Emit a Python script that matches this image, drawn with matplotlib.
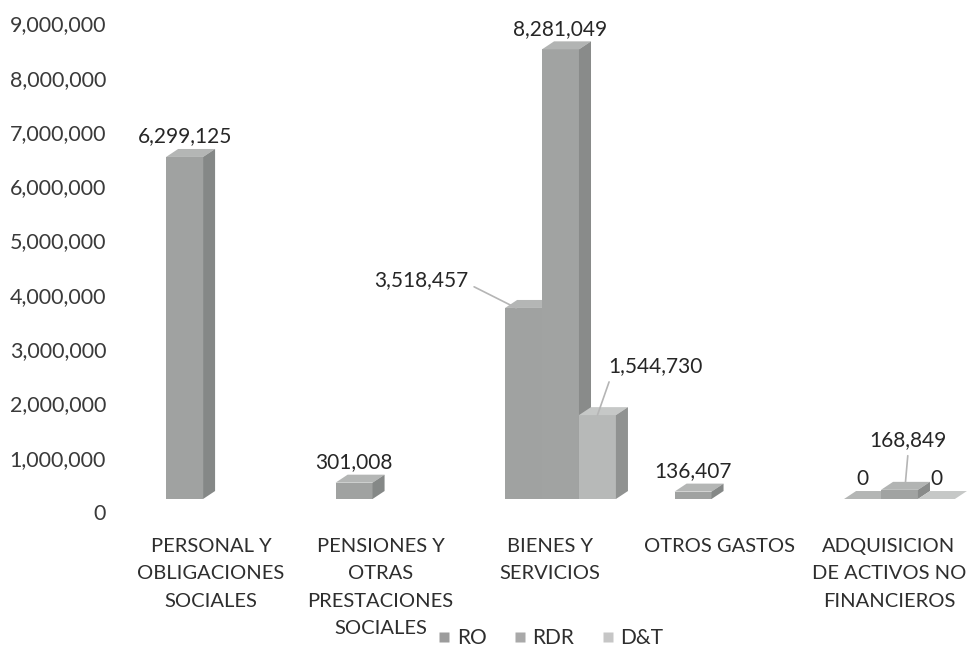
import numpy as np
import matplotlib
matplotlib.use('Agg')
import matplotlib.pyplot as plt
from matplotlib.patches import Polygon
from matplotlib.lines import Line2D
from matplotlib.transforms import ScaledTranslation

# gasto por concepto y fuente de financiacion
categories = ['PERSONAL Y\nOBLIGACIONES\nSOCIALES',
              'PENSIONES Y\nOTRAS\nPRESTACIONES\nSOCIALES',
              'BIENES Y\nSERVICIOS',
              'OTROS GASTOS',
              'ADQUISICION\nDE ACTIVOS NO\nFINANCIEROS']
series = ['RO', 'RDR', 'D&T']
ro = [6299125, 301008, 3518457, 136407, 0]
rdr = [np.nan, np.nan, 8281049, np.nan, 168849]
dt = [np.nan, np.nan, 1544730, np.nan, 0]
y_ticks = [0, 1000000, 2000000, 3000000, 4000000, 5000000,
           6000000, 7000000, 8000000, 9000000]

plt.rcParams['font.family'] = ['Lato', 'DejaVu Sans']
plt.rcParams['font.size'] = 15.5

# front / top / side shades for each series
shades = {
    'RO':  ('#a0a2a1', '#b4b6b5', '#858887'),
    'RDR': ('#a1a3a2', '#b2b4b3', '#898b8a'),
    'D&T': ('#b7b9b8', '#c6c8c7', '#909291'),
}
legend_colors = {'RO': '#9c9c9c', 'RDR': '#a9a9a9', 'D&T': '#c6c6c6'}

W = 0.218            # bar width (category units)
OFFS = [-0.265, -0.047, 0.171]   # left edge of each series inside a group
DX = 0.071           # depth shift to the right
DY = 147000          # depth shift upwards (value units)

fig = plt.figure(figsize=(9.71, 6.47), dpi=100)
ax = fig.add_axes([120/971, 148/647, 851/971, 488.7/647])
ax.set_xlim(-0.537, 4.484)
ax.set_ylim(0, 9000000)
ax.set_facecolor('none')
for s in ax.spines.values():
    s.set_visible(False)


def draw_bar(x0, v, cols):
    front, top, side = cols
    x1 = x0 + W
    ax.bar(x0, v, width=W, align='edge', color=front, linewidth=0, zorder=2)
    ax.add_patch(Polygon([(x0, v), (x1, v), (x1 + DX, v + DY), (x0 + DX, v + DY)],
                         closed=True, facecolor=top, edgecolor='none', zorder=2))
    ax.add_patch(Polygon([(x1, 0), (x1 + DX, DY), (x1 + DX, v + DY), (x1, v)],
                         closed=True, facecolor=side, edgecolor='none', zorder=2))


label_kw = dict(ha='center', va='center', color='#262626', fontsize=15,
                textcoords='offset points', zorder=5)
leader = dict(arrowstyle='-', color='#b5b5b5', lw=1.2, shrinkA=2, shrinkB=0)

for i in range(len(categories)):
    for k, (name, vals) in enumerate(zip(series, [ro, rdr, dt])):
        v = vals[i]
        if np.isnan(v):
            continue
        x0 = i + OFFS[k]
        draw_bar(x0, v, shades[name])
        txt = f'{v:,.0f}'
        xc = x0 + W / 2
        if name == 'RO' and i == 2:
            ax.annotate(txt, xy=(x0 + W * 0.3, v), xytext=(-68, 20),
                        arrowprops=dict(leader, relpos=(1.0, 0.3)), **label_kw)
        elif name == 'D&T' and i == 2:
            ax.annotate(txt, xy=(xc, v), xytext=(42, 35),
                        arrowprops=dict(leader, relpos=(0.04, 0.2)), **label_kw)
        elif name == 'RDR' and i == 4:
            ax.annotate(txt, xy=(xc + DX / 2, v + DY), xytext=(2, 30),
                        arrowprops=dict(leader, relpos=(0.5, 0.0)), **label_kw)
        else:
            ax.annotate(txt, xy=(xc, v + DY), xytext=(0, 9), **label_kw)

ax.set_yticks(y_ticks)
ax.set_yticklabels([f'{t:,.0f}' for t in y_ticks], color='#3a3a3a')
ax.tick_params(axis='y', length=0, pad=10)
shift = ScaledTranslation(0, -13 / 100, fig.dpi_scale_trans)
for lab in ax.get_yticklabels():
    lab.set_transform(lab.get_transform() + shift)

ax.set_xticks(range(len(categories)))
ax.set_xticklabels(categories, color='#2e2e2e', linespacing=1.75, va='top',
                   fontsize=14.5)
ax.tick_params(axis='x', length=0, pad=28)

handles = [Line2D([], [], marker='s', linestyle='none', markersize=7,
                  markerfacecolor=legend_colors[n], markeredgecolor='none')
           for n in series]
fig.legend(handles, series, loc='center left', bbox_to_anchor=(438/971, 1 - 638/647),
           ncol=3, frameon=False, handlelength=0.6, handletextpad=0.3,
           columnspacing=1.3, fontsize=15, labelcolor='#2e2e2e',
           borderpad=0, borderaxespad=0)

fig.savefig('out.png', dpi=100, facecolor='white')
